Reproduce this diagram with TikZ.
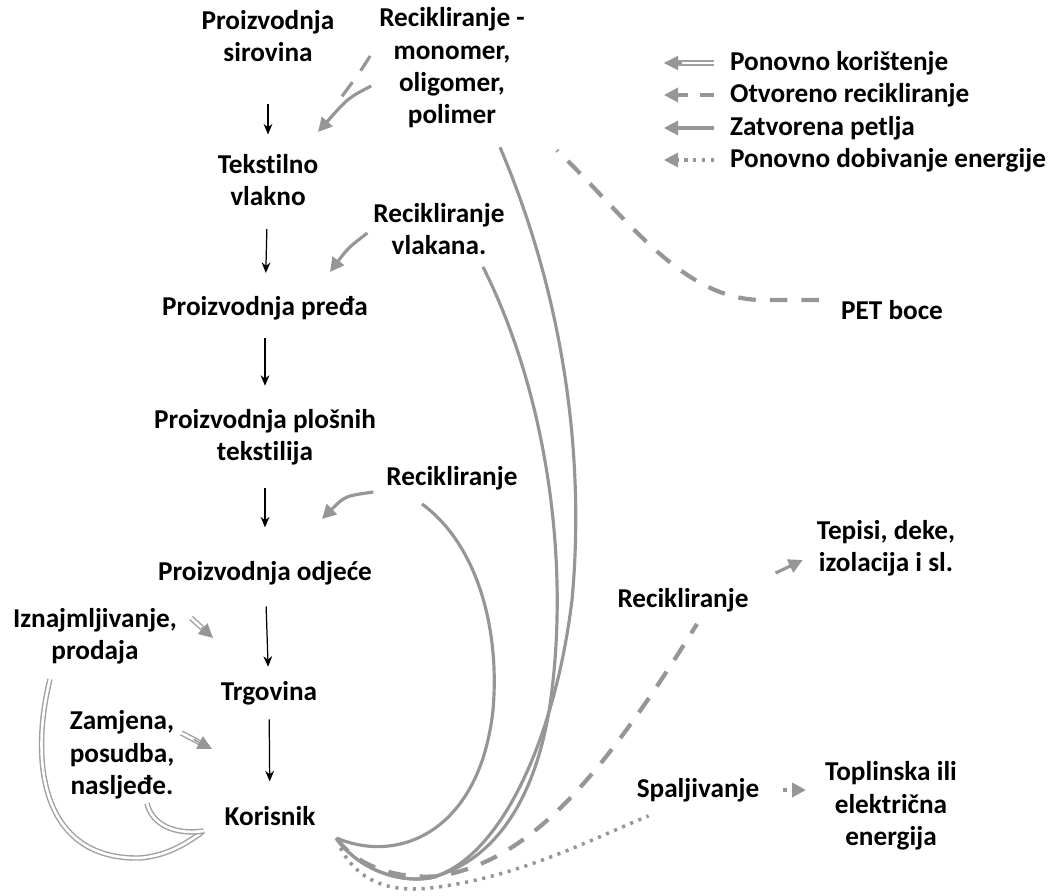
\documentclass[tikz,border=0pt]{standalone}
\usepackage{fontspec}
\setmainfont{Carlito}[Ligatures=NoCommon]
\usetikzlibrary{arrows.meta}
\definecolor{loopgray}{RGB}{150,150,150}
\definecolor{reusegray}{RGB}{160,160,160}

\begin{document}
\begin{tikzpicture}[x=0.2mm, y=-0.2mm,
  txt/.style={align=center, font=\fontsize{15.5}{18.4}\selectfont\bfseries, inner sep=1pt},
  steparrow/.style={-{Stealth[length=6pt,width=5pt]}, line width=0.7pt, shorten <=12pt, shorten >=12pt},
  closedloop/.style={draw=loopgray, line width=1.8pt},
  openrec/.style={closedloop, line width=2.4pt, dash pattern=on 10pt off 8pt},
  energyrec/.style={closedloop, line width=2pt, dash pattern=on 1.8pt off 3.2pt},
  reuse/.style={draw=reusegray, double=white, double distance=1.5pt, line width=0.8pt},
  graytip/.style={-{Triangle[length=8pt,width=8pt]}},
  reusetip/.style={draw=loopgray, line width=0.8pt, graytip}
]
\useasboundingbox (0,0) rectangle (1050,896);

% production chain
\node[txt] (sirovina) at (268,36) {Proizvodnja\\sirovina};
\node[txt] (vlakno) at (268,180) {Tekstilno\\vlakno};
\node[txt] (preda) at (265,308) {Proizvodnja pređa};
\node[txt] (plosne) at (265,437) {Proizvodnja plošnih\\tekstilija};
\node[txt] (odjeca) at (265,573) {Proizvodnja odjeće};
\node[txt] (trgovina) at (269,693) {Trgovina};
\node[txt] (korisnik) at (270,816) {Korisnik};

\draw[steparrow, shorten <=23pt, shorten >=10pt] (sirovina) -- (vlakno);
\draw[steparrow] (vlakno) -- (preda);
\draw[steparrow, shorten <=9pt] (preda) -- (plosne);
\draw[steparrow, shorten >=18pt] (plosne) -- (odjeca);
\draw[steparrow, shorten <=11pt, shorten >=7pt] (odjeca) -- (trgovina);
\draw[steparrow, shorten <=7pt, shorten >=13pt] (trgovina) -- (korisnik);

% recycling labels
\node[txt] (recmono) at (452,68) {Recikliranje -\\monomer,\\oligomer,\\polimer};
\node[txt] (recvl) at (439,229) {Recikliranje\\vlakana.};
\node[txt] (recik) at (452,478) {Recikliranje};
\node[txt] (iznajm) at (95,636) {Iznajmljivanje,\\prodaja};
\node[txt] (zamjena) at (122,755) {Zamjena,\\posudba,\\nasljeđe.};
\node[txt] (petboce) at (892,310) {PET boce};
\node[txt] (recik2) at (683,600) {Recikliranje};
\node[txt] (tepisi) at (886,548) {Tepisi, deke,\\izolacija i sl.};
\node[txt] (spalj) at (698,790) {Spaljivanje};
\node[txt] (toplin) at (891,806) {Toplinska ili\\električna\\energija};

% legend
\node[txt, anchor=west] (leg1) at (728,63) {Ponovno korištenje};
\node[txt, anchor=west] (leg2) at (728,95) {Otvoreno recikliranje};
\node[txt, anchor=west] (leg3) at (728,128) {Zatvorena petlja};
\node[txt, anchor=west] (leg4) at (728,160) {Ponovno dobivanje energije};
\draw[reuse, shorten >=7pt] ([xshift=-8pt]leg1.west) -- ++(-50,0);
\draw[reusetip, shorten <=18pt] ([xshift=-8pt]leg1.west) -- ++(-50,0);
\draw[openrec, line width=1.8pt, dash pattern=on 8pt off 7pt, graytip] ([xshift=-8pt]leg2.west) -- ++(-50,0);
\draw[closedloop, graytip] ([xshift=-8pt]leg3.west) -- ++(-50,0);
\draw[energyrec, line width=1.8pt, graytip] ([xshift=-8pt]leg4.west) -- ++(-50,0);

% free ends
\coordinate (monotip) at (318,132);
\coordinate (monodash) at (340,99);
\coordinate (vltip) at (330,272);
\coordinate (rectip) at (322,519);
\coordinate (iznajmtip) at (213,638);
\coordinate (zamjtip) at (212,749);
\coordinate (korend) at ([shift={(19,22)}]korisnik.east);
\coordinate (reuseend) at ([shift={(-19,15)}]korisnik.west);

% arrows back into the chain
\draw[closedloop, graytip] ([shift={(-6,18)}]recmono.west) .. controls (348,98) .. (monotip);
\draw[openrec, line width=1.8pt] ([shift={(-7,-12)}]recmono.west) .. controls (360,72) .. (monodash);
\draw[closedloop, graytip] ([shift={(-4,4)}]recvl.west) .. controls (348,248) .. (vltip);
\draw[closedloop, graytip] ([shift={(-11,14)}]recik.west) .. controls (345,496) .. (rectip);
\draw[reuse, shorten >=6pt] ([shift={(12,-18)}]iznajm.east) -- (iznajmtip);
\draw[reusetip, shorten <=8pt] ([shift={(12,-18)}]iznajm.east) -- (iznajmtip);
\draw[reuse, shorten >=6pt] ([shift={(5,-22)}]zamjena.east) -- (zamjtip);
\draw[reusetip, shorten <=8pt] ([shift={(5,-22)}]zamjena.east) -- (zamjtip);

% closed loops from the user
\draw[closedloop] ([shift={(48,17)}]recmono.south) .. controls (565,300) and (585,460) .. (572,600)
  .. controls (555,740) and (500,860) .. (430,878) .. controls (390,884) and (352,862) .. (korend);
\draw[closedloop] ([shift={(44,10)}]recvl.south) .. controls (540,380) and (570,540) .. (552,690)
  .. controls (540,790) and (500,860) .. (430,878) .. controls (390,884) and (352,862) .. (korend);
\draw[closedloop] ([shift={(-30,12)}]recik.south) .. controls (478,545) and (500,630) .. (493,710)
  .. controls (480,830) and (400,865) .. (korend);

% open recycling and energy
\draw[openrec] (korend) .. controls (355,865) and (395,880) .. (440,876)
  .. controls (530,860) and (600,780) .. ([shift={(14,10)}]recik2.south);
\draw[energyrec] ([shift={(4,10)}]korend) .. controls (360,885) and (395,892) .. (430,888)
  .. controls (520,878) and (600,835) .. ([shift={(14,12)}]spalj.south west);
\draw[openrec] ([shift={(-20,-10)}]petboce.west) -- (760,300)
  .. controls (680,298) and (625,215) .. ([shift={(30,20)}]recmono.south east);
\draw[closedloop, graytip] ([shift={(25,-13)}]recik2.north east) -- ([shift={(-12,12)}]tepisi.west);
\draw[energyrec, graytip] ([shift={(22,0)}]spalj.east) -- ([shift={(-17,-16)}]toplin.west);

% reuse loops
\draw[reuse] ([shift={(-45,13)}]iznajm.south) .. controls (30,760) and (40,860) .. (140,858)
  .. controls (165,856) and (185,845) .. (reuseend);
\draw[reuse] ([shift={(25,2)}]zamjena.south) .. controls (152,825) and (175,835) .. (reuseend);
\end{tikzpicture}
\end{document}
